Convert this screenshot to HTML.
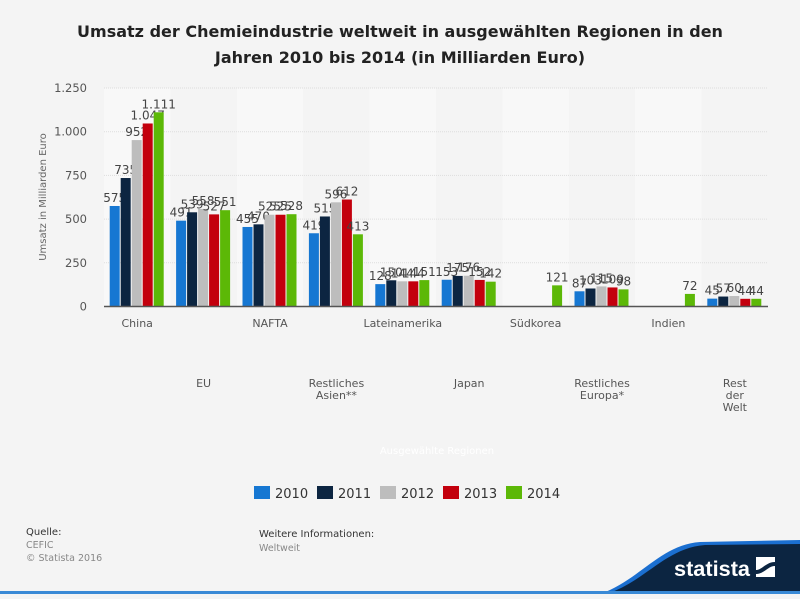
<!DOCTYPE html>
<html><head><meta charset="utf-8"><style>
body{margin:0;width:800px;height:594px;background:#f4f4f4;font-family:"Liberation Sans","DejaVu Sans",sans-serif;overflow:hidden}
</style></head><body>
<svg id="s" width="800" height="594" xmlns="http://www.w3.org/2000/svg" font-family="'DejaVu Sans','Liberation Sans',sans-serif">
<rect width="800" height="594" fill="#f4f4f4"/>
<text x="400" y="37" text-anchor="middle" font-size="16" font-weight="bold" fill="#222">Umsatz der Chemieindustrie weltweit in ausgewählten Regionen in den</text>
<text x="400" y="63" text-anchor="middle" font-size="16" font-weight="bold" fill="#222">Jahren 2010 bis 2014 (in Milliarden Euro)</text>
<g id="bands"></g>
<g id="grid"></g>
<g id="bars"></g>
<line x1="104" y1="306.5" x2="768" y2="306.5" stroke="#555" stroke-width="1.5"/>
<text transform="translate(46,197) rotate(-90)" text-anchor="middle" font-size="10" fill="#666">Umsatz in Milliarden Euro</text>
<text x="437" y="454" text-anchor="middle" font-size="10" fill="#fff">Ausgewählte Regionen</text>
<g font-size="13" fill="#333">
<rect x="254" y="486" width="16" height="13" fill="#1677d2"/><text x="275" y="498">2010</text>
<rect x="317" y="486" width="16" height="13" fill="#0c2541"/><text x="338" y="498">2011</text>
<rect x="380" y="486" width="16" height="13" fill="#bdbdbd"/><text x="401" y="498">2012</text>
<rect x="443" y="486" width="16" height="13" fill="#c3000d"/><text x="464" y="498">2013</text>
<rect x="506" y="486" width="16" height="13" fill="#5cb807"/><text x="527" y="498">2014</text>
</g>
<text x="26" y="535" font-size="10" fill="#333">Quelle:</text>
<text x="26" y="548" font-size="9.5" fill="#888">CEFIC</text>
<text x="26" y="561" font-size="9.5" fill="#888">© Statista 2016</text>
<text x="259" y="537" font-size="10" fill="#333">Weitere Informationen:</text>
<text x="259" y="551" font-size="9.5" fill="#888">Weltweit</text>
<path d="M600,594 C640,580 660,545 700,542 L800,540 L800,594 Z" fill="#1b6fd0"/>
<path d="M606,594 C645,582 665,548 705,545 L800,544 L800,594 Z" fill="#0c2541"/>
<text x="674" y="576" font-size="21" font-weight="bold" fill="#fff" font-family="'Liberation Sans',sans-serif" textLength="76" lengthAdjust="spacingAndGlyphs">statista</text>
<rect x="756" y="557" width="19" height="20" fill="#fff"/>
<path d="M756,570 C762,570 766,562 775,562 L775,566 C768,566 764,574 756,574 Z" fill="#0c2541"/>
<rect x="0" y="591" width="800" height="3" fill="#3a8ad6"/>
</svg>
<script>
const cats=[["China"],["EU"],["NAFTA"],["Restliches","Asien**"],["Lateinamerika"],["Japan"],["Südkorea"],["Restliches","Europa*"],["Indien"],["Rest","der","Welt"]];
const d=[[575,735,952,1047,1111],[491,539,558,527,551],[455,470,525,525,528],[419,515,596,612,413],[128,150,144,144,151],[153,175,176,152,142],[null,null,null,null,121],[87,103,115,109,98],[null,null,null,null,72],[45,57,60,44,44]];
const col=["#1677d2","#0c2541","#bdbdbd","#c3000d","#5cb807"];
const ns="http://www.w3.org/2000/svg";
function el(p,t,a,txt){const e=document.createElementNS(ns,t);for(const k in a)e.setAttribute(k,a[k]);if(txt!=null)e.textContent=txt;document.getElementById(p).appendChild(e);return e;}
const y0=306.5,sc=218.5/1250,W=66.4;
for(let i=0;i<10;i++){if(i%2==0)el("bands","rect",{x:104+W*i,y:88,width:W,height:218,fill:"#f8f8f8"});}
[250,500,750,1000,1250].forEach(v=>{const y=y0-v*sc;el("grid","line",{x1:104,x2:768,y1:y,y2:y,stroke:"#ddd","stroke-dasharray":"1,1"});});
[0,250,500,750,1000,1250].forEach(v=>{el("grid","text",{x:87,y:y0-v*sc+4,"text-anchor":"end","font-size":"11.5",fill:"#555"},v>=1000?(v/1000).toFixed(3):v);});
for(let i=0;i<10;i++){const cx=104+W*i+W/2;
 d[i].forEach((v,s)=>{if(v==null)return;const x=cx-27.5+11*s,h=v*sc;
  el("bars","rect",{x:x,y:y0-h,width:10,height:h,fill:col[s]});
  el("bars","text",{x:x+5,y:y0-h-4,"text-anchor":"middle","font-size":"12",fill:"#444"},v>=1000?(v/1000).toFixed(3):v);});
 const ly=i%2==0?327:387;
 cats[i].forEach((t,k)=>el("bars","text",{x:cx,y:ly+k*12,"text-anchor":"middle","font-size":"11",fill:"#555"},t));
}
</script>
</body></html>
